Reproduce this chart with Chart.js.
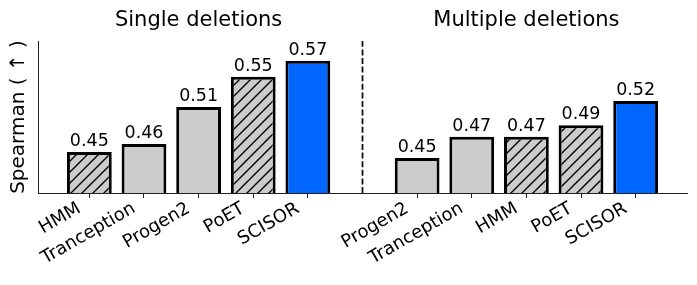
<!DOCTYPE html>
<html>
<head>
<meta charset="utf-8">
<script src="https://cdn.jsdelivr.net/npm/chart.js@4"></script>
<style>
  html, body { margin: 0; padding: 0; background: #fff; }
  #wrap { width: 697px; height: 285px; }
</style>
</head>
<body>
<div id="wrap"><canvas id="barchart"></canvas></div>
<script>
var singleModels = ['HMM', 'Tranception', 'Progen2', 'PoET', 'SCISOR'];
var singleScores = [0.454, 0.4645, 0.513, 0.553, 0.574];
var multiModels = ['Progen2', 'Tranception', 'HMM', 'PoET', 'SCISOR'];
var multiScores = [0.446, 0.474, 0.474, 0.489, 0.521];
var groupTitles = ['Single deletions', 'Multiple deletions'];
var hatchedModels = ['HMM', 'PoET'];
var oursModel = 'SCISOR';
var yLabel = 'Spearman ( \u2191 )';
var yMin = 0.4, yMax = 0.6;

Chart.defaults.font.family = '"DejaVu Sans", sans-serif';
Chart.defaults.color = '#000';

function makeHatch(bg) {
  var c = document.createElement('canvas');
  c.width = 11; c.height = 11;
  var g = c.getContext('2d');
  g.fillStyle = bg;
  g.fillRect(0, 0, 11, 11);
  g.strokeStyle = '#000';
  g.lineWidth = 1.4;
  g.beginPath();
  g.moveTo(-1, 12); g.lineTo(12, -1);
  g.moveTo(-1, 1); g.lineTo(1, -1);
  g.moveTo(10, 12); g.lineTo(12, 10);
  g.stroke();
  return document.getElementById('barchart').getContext('2d').createPattern(c, 'repeat');
}

var gray = '#cccccc', blue = '#0066ff';
var hatchFill = makeHatch(gray);

// left group at 0..4, a gap slot, right group after it
var gap = singleModels.length;
var models = singleModels.concat(multiModels);
var scores = singleScores.concat(multiScores);
var xs = models.map(function (m, i) { return i < gap ? i : i + 1; });
var fills = models.map(function (m) {
  if (m === oursModel) return blue;
  return hatchedModels.indexOf(m) >= 0 ? hatchFill : gray;
});
var groupCenters = [(gap - 1) / 2, gap + 1 + (multiModels.length - 1) / 2];

var decorations = {
  id: 'decorations',
  afterDatasetsDraw: function (chart) {
    var ctx = chart.ctx;
    var meta = chart.getDatasetMeta(0);
    ctx.save();
    ctx.fillStyle = '#000';
    ctx.textAlign = 'center';
    ctx.textBaseline = 'alphabetic';
    ctx.font = '17.5px "DejaVu Sans"';
    meta.data.forEach(function (bar, i) {
      ctx.fillText(scores[i].toFixed(2), bar.x, bar.y - 6);
    });
    ctx.font = '21px "DejaVu Sans"';
    groupTitles.forEach(function (t, i) {
      ctx.fillText(t, chart.scales.x.getPixelForValue(groupCenters[i]), chart.chartArea.top - 15);
    });
    ctx.restore();
  }
};

new Chart(document.getElementById('barchart'), {
  type: 'bar',
  data: {
    datasets: [{
      data: xs.map(function (x, i) { return { x: x, y: scores[i] }; }),
      backgroundColor: fills,
      borderColor: '#000',
      borderWidth: 3,
      borderSkipped: false,
      categoryPercentage: 1,
      barPercentage: 0.82
    }, {
      type: 'line',
      data: [{ x: gap, y: yMin }, { x: gap, y: yMax }],
      borderColor: '#111',
      borderWidth: 1.8,
      borderDash: [6, 2.6],
      pointRadius: 0,
      fill: false
    }]
  },
  plugins: [decorations],
  options: {
    responsive: true,
    maintainAspectRatio: false,
    animation: false,
    events: [],
    layout: { padding: { top: 41, right: 10, left: 0, bottom: 0 } },
    plugins: { legend: { display: false }, tooltip: { enabled: false } },
    scales: {
      x: {
        type: 'linear',
        min: -0.94,
        max: 10.94,
        offset: false,
        afterBuildTicks: function (scale) {
          scale.ticks = xs.map(function (v) { return { value: v }; });
        },
        afterFit: function (scale) { scale.height = 92; },
        ticks: {
          autoSkip: false,
          minRotation: 30,
          maxRotation: 30,
          padding: 0,
          labelOffset: -10,
          font: { size: 18 },
          callback: function (value, index) { return models[index]; }
        },
        grid: { offset: false, drawOnChartArea: false, drawTicks: true, tickLength: 5, color: '#222' },
        border: { display: true, color: '#222', width: 1 }
      },
      y: {
        min: yMin,
        max: yMax,
        afterFit: function (scale) { scale.width = 38; },
        ticks: { display: false },
        grid: { display: false },
        border: { display: true, color: '#222', width: 1 },
        title: { display: true, text: yLabel, font: { size: 20 }, padding: { top: 7, bottom: 0 } }
      }
    }
  }
});
</script>
</body>
</html>
